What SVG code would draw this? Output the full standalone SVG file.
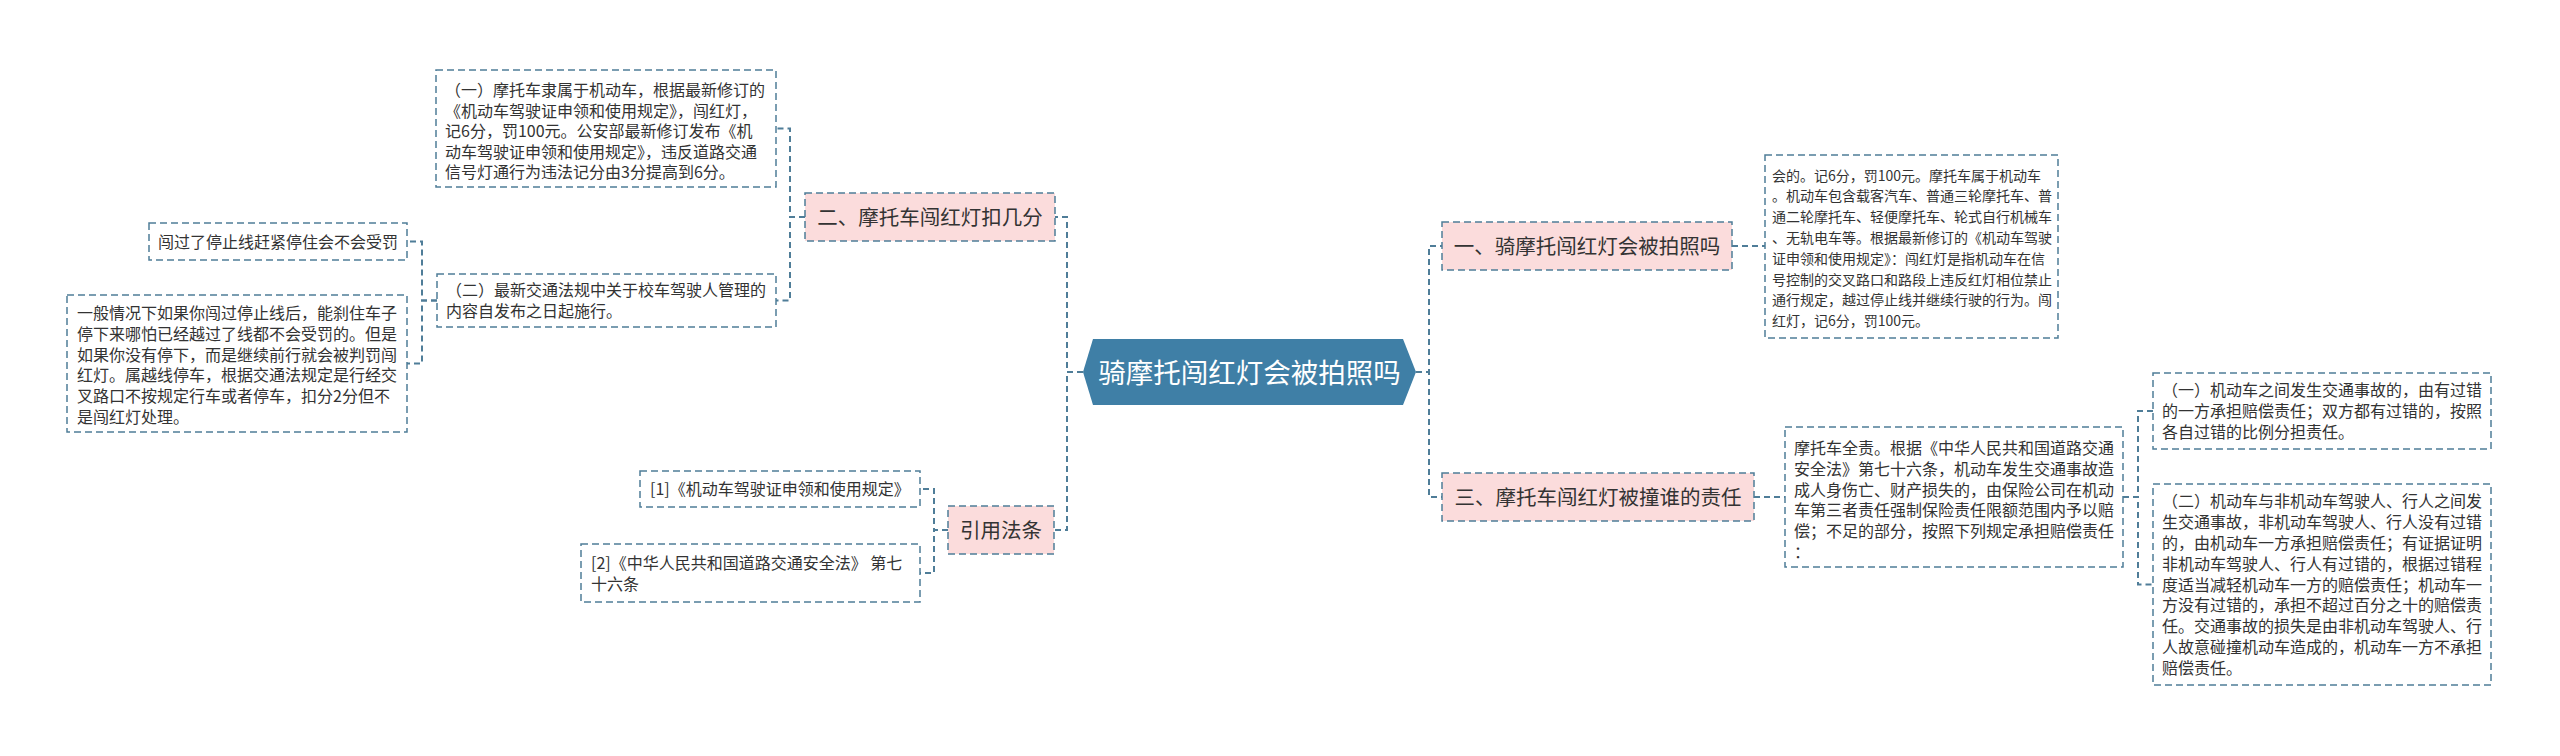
<svg xmlns="http://www.w3.org/2000/svg" width="2560" height="756" viewBox="0 0 2560 756">
<style>
.bx{fill:#fff;stroke:#4f7d98;stroke-width:1.5;stroke-dasharray:7 4}
.pk{fill:#fbdcdc;stroke:#4f7d98;stroke-width:1.5;stroke-dasharray:7 4}
.t{font-family:"Noto Sans CJK SC","Liberation Sans",sans-serif;font-size:16px;fill:#333}
.ts{font-family:"Noto Sans CJK SC","Liberation Sans",sans-serif;font-size:14px;fill:#333}
.tp{font-family:"Noto Sans CJK SC","Liberation Sans",sans-serif;font-size:20.5px;fill:#333;text-anchor:middle}
.tc{font-family:"Noto Sans CJK SC","Liberation Sans",sans-serif;font-size:27.5px;fill:#fff;text-anchor:middle}
.cn{fill:none;stroke:#4f7d98;stroke-width:2;stroke-dasharray:6 4}
</style>
<rect width="2560" height="756" fill="#fff"/>
<g id="connectors">
<path class="cn" d="M1083 372H1067V217H1055"/>
<path class="cn" d="M1083 372H1067V530H1054"/>
<path class="cn" d="M805 217H790V128.5H776"/>
<path class="cn" d="M805 217H790V300.5H776"/>
<path class="cn" d="M437 300.5H422V241.5H407"/>
<path class="cn" d="M437 300.5H422V363.5H407"/>
<path class="cn" d="M948 530H934V489H920"/>
<path class="cn" d="M948 530H934V573H920"/>
<path class="cn" d="M1416 372H1429V246H1442"/>
<path class="cn" d="M1416 372H1429V497H1442"/>
<path class="cn" d="M1732 246H1765"/>
<path class="cn" d="M1754 497H1785"/>
<path class="cn" d="M2123 497H2138V411H2153"/>
<path class="cn" d="M2123 497H2138V584.5H2153"/>
</g>
<g id="center">
<polygon points="1083,372 1093,339 1403,339 1416,372 1403,405 1093,405" fill="#3f7fa6"/>
<text class="tc" x="1249.5" y="382.5">骑摩托闯红灯会被拍照吗</text>
</g>
<g id="n2">
<rect class="pk" x="805" y="193" width="250" height="48"/>
<text class="tp" x="930" y="224.8">二、摩托车闯红灯扣几分</text>
</g>
<g id="n2a">
<rect class="bx" x="436" y="70" width="340" height="117"/>
<text class="t"><tspan x="445" y="96">（一）摩托车隶属于机动车，根据最新修订的</tspan><tspan x="445" y="116.5">《机动车驾驶证申领和使用规定》，闯红灯，</tspan><tspan x="445" y="137">记6分，罚100元。公安部最新修订发布《机</tspan><tspan x="445" y="157.5">动车驾驶证申领和使用规定》，违反道路交通</tspan><tspan x="445" y="178">信号灯通行为违法记分由3分提高到6分。</tspan></text>
</g>
<g id="n2b">
<rect class="bx" x="437" y="274" width="339" height="53"/>
<text class="t"><tspan x="446" y="296">（二）最新交通法规中关于校车驾驶人管理的</tspan><tspan x="446" y="317">内容自发布之日起施行。</tspan></text>
</g>
<g id="n2b1">
<rect class="bx" x="149" y="223" width="258" height="37"/>
<text class="t" x="158" y="247.5">闯过了停止线赶紧停住会不会受罚</text>
</g>
<g id="n2b2">
<rect class="bx" x="67" y="295" width="340" height="137"/>
<text class="t"><tspan x="77" y="319">一般情况下如果你闯过停止线后，能刹住车子</tspan><tspan x="77" y="339.8">停下来哪怕已经越过了线都不会受罚的。但是</tspan><tspan x="77" y="360.6">如果你没有停下，而是继续前行就会被判罚闯</tspan><tspan x="77" y="381.4">红灯。属越线停车，根据交通法规定是行经交</tspan><tspan x="77" y="402.2">叉路口不按规定行车或者停车，扣分2分但不</tspan><tspan x="77" y="423">是闯红灯处理。</tspan></text>
</g>
<g id="n4">
<rect class="pk" x="948" y="506" width="106" height="48"/>
<text class="tp" x="1001" y="537.8">引用法条</text>
</g>
<g id="n4a">
<rect class="bx" x="640" y="471" width="280" height="36"/>
<text class="t" x="650" y="495">[1]《机动车驾驶证申领和使用规定》</text>
</g>
<g id="n4b">
<rect class="bx" x="581" y="544" width="339" height="58"/>
<text class="t"><tspan x="591" y="569">[2]《中华人民共和国道路交通安全法》 第七</tspan><tspan x="591" y="590">十六条</tspan></text>
</g>
<g id="n1">
<rect class="pk" x="1442" y="222" width="290" height="48"/>
<text class="tp" x="1587" y="253.8">一、骑摩托闯红灯会被拍照吗</text>
</g>
<g id="n1a">
<rect class="bx" x="1765" y="155" width="293" height="183"/>
<text class="ts"><tspan x="1772" y="180.5">会的。记6分，罚100元。摩托车属于机动车</tspan><tspan x="1772" y="201.3">。机动车包含载客汽车、普通三轮摩托车、普</tspan><tspan x="1772" y="222.1">通二轮摩托车、轻便摩托车、轮式自行机械车</tspan><tspan x="1772" y="242.9">、无轨电车等。根据最新修订的《机动车驾驶</tspan><tspan x="1772" y="263.7">证申领和使用规定》：闯红灯是指机动车在信</tspan><tspan x="1772" y="284.5">号控制的交叉路口和路段上违反红灯相位禁止</tspan><tspan x="1772" y="305.3">通行规定，越过停止线并继续行驶的行为。闯</tspan><tspan x="1772" y="326.1">红灯，记6分，罚100元。</tspan></text>
</g>
<g id="n3">
<rect class="pk" x="1442" y="473" width="312" height="48"/>
<text class="tp" x="1598" y="504.8">三、摩托车闯红灯被撞谁的责任</text>
</g>
<g id="n3a">
<rect class="bx" x="1785" y="427" width="338" height="140"/>
<text class="t"><tspan x="1794" y="454">摩托车全责。根据《中华人民共和国道路交通</tspan><tspan x="1794" y="474.8">安全法》第七十六条，机动车发生交通事故造</tspan><tspan x="1794" y="495.6">成人身伤亡、财产损失的，由保险公司在机动</tspan><tspan x="1794" y="516.4">车第三者责任强制保险责任限额范围内予以赔</tspan><tspan x="1794" y="537.2">偿；不足的部分，按照下列规定承担赔偿责任</tspan><tspan x="1794" y="558">：</tspan></text>
</g>
<g id="n3a1">
<rect class="bx" x="2153" y="373" width="338" height="76"/>
<text class="t"><tspan x="2162" y="396.2">（一）机动车之间发生交通事故的，由有过错</tspan><tspan x="2162" y="417">的一方承担赔偿责任；双方都有过错的，按照</tspan><tspan x="2162" y="437.8">各自过错的比例分担责任。</tspan></text>
</g>
<g id="n3a2">
<rect class="bx" x="2153" y="484" width="338" height="201"/>
<text class="t"><tspan x="2162" y="507.3">（二）机动车与非机动车驾驶人、行人之间发</tspan><tspan x="2162" y="528.1">生交通事故，非机动车驾驶人、行人没有过错</tspan><tspan x="2162" y="548.9">的，由机动车一方承担赔偿责任；有证据证明</tspan><tspan x="2162" y="569.7">非机动车驾驶人、行人有过错的，根据过错程</tspan><tspan x="2162" y="590.5">度适当减轻机动车一方的赔偿责任；机动车一</tspan><tspan x="2162" y="611.3">方没有过错的，承担不超过百分之十的赔偿责</tspan><tspan x="2162" y="632.1">任。交通事故的损失是由非机动车驾驶人、行</tspan><tspan x="2162" y="652.9">人故意碰撞机动车造成的，机动车一方不承担</tspan><tspan x="2162" y="673.7">赔偿责任。</tspan></text>
</g>
</svg>
